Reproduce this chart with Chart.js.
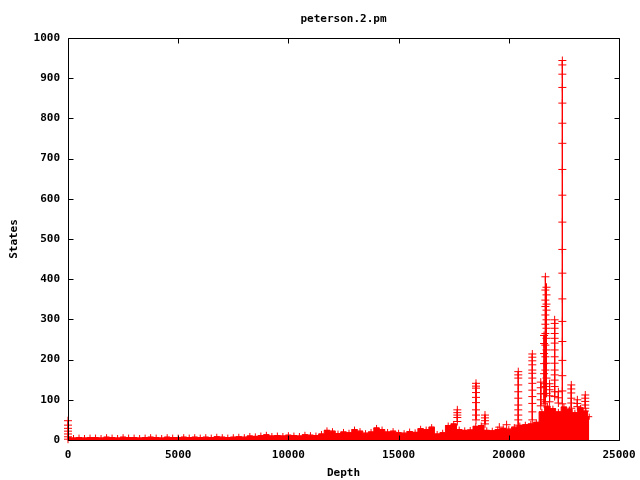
<!DOCTYPE html>
<html><head><meta charset="utf-8">
<script src="https://cdn.jsdelivr.net/npm/chart.js@4/dist/chart.umd.min.js"></script>
<style>html,body{margin:0;padding:0;background:#fff}#wrap{width:640px;height:480px}</style>
</head><body><div id="wrap"><canvas id="c" width="640" height="480"></canvas></div>
<script>
const chartTitle = 'peterson.2.pm';
const xLabel = 'Depth';
const yLabel = 'States';
const xTicks = [0, 5000, 10000, 15000, 20000, 25000];
const yTicks = [0, 100, 200, 300, 400, 500, 600, 700, 800, 900, 1000];

// dense band (upper envelope of states per depth)
const bandDepth = [0,250,500,750,1000,1250,1500,1750,2000,2250,2500,2750,3000,3250,3500,3750,4000,4250,4500,4750,
  5000,5250,5500,5750,6000,6250,6500,6750,7000,7250,7500,7750,8000,8250,8500,8750,9000,9250,9500,9750,
  10000,10250,10500,10750,11000,11250,11500,11750,12000,12250,12500,12750,13000,13250,13500,13750,14000,14250,14500,14750,
  15000,15250,15500,15750,16000,16250,16500,16750,17000,17250,17500,17750,18000,18250,18500,18750,19000,19250,19500,19750,
  20000,20250,20500,20750,21000,21250,21500,21750,22000,22250,22500,22750,23000,23250,23500,23650];
const bandStates = [6,5,6,5,6,6,5,7,6,5,
  7,6,6,5,6,7,6,5,7,6,
  6,7,6,7,6,7,6,8,7,6,
  7,8,7,10,9,11,13,10,11,10,
  12,11,10,13,12,11,15,24,22,16,
  20,18,26,22,17,20,30,26,20,22,
  18,17,21,19,28,26,32,15,18,36,
  40,26,24,25,34,36,24,23,26,29,
  27,32,36,38,40,44,70,84,78,70,
  82,76,68,80,72,58];

// spikes: many states recorded at the same depth
const spikeDepth = [0, 17665, 18512, 18920, 19570, 19900, 20430, 21067, 21450, 21600, 21660, 21710, 21850, 22080, 22250, 22430, 22835, 23110, 23470];
const spikeStates = [
  [2, 8, 15, 22, 29, 37, 48],
  [75, 68, 62, 56, 46],
  [141, 134, 129, 118, 106, 93, 75, 62, 50],
  [62, 55, 48, 40],
  [32],
  [38],
  [170, 162, 154, 137, 120, 104, 87, 75, 62, 50, 37],
  [214, 206, 197, 187, 174, 166, 154, 141, 124, 108, 91, 70, 50],
  [144, 130, 115, 100, 85],
  [260, 240, 215, 190, 165, 140, 115, 90],
  [406, 373, 348, 332, 311, 288, 265, 236, 207, 174, 133, 95],
  [380, 361, 338, 323, 299, 278, 253, 224, 191, 154, 116],
  [140, 125, 110, 95],
  [299, 290, 278, 265, 253, 241, 224, 207, 191, 174, 162, 149, 133, 120, 108],
  [120, 105, 92],
  [944, 933, 910, 877, 838, 788, 738, 673, 609, 542, 474, 415, 351, 295, 245, 198, 160, 122, 90],
  [137, 127, 117, 104, 92, 79],
  [100, 91, 83],
  [112, 104, 96, 87, 79]
];

const RED = '#ff0000';
const FONT = {family: '"DejaVu Sans Mono", monospace', weight: 'bold', size: 11};

const bandPoints = bandDepth.map((d, i) => ({x: d, y: bandStates[i]}));
const spikePoints = [];
spikeDepth.forEach((d, i) => {
  spikeStates[i].forEach(v => spikePoints.push({x: d, y: v}));
  spikePoints.push({x: d, y: null});
});

const framePlugin = {
  id: 'frame',
  afterDatasetsDraw(chart) {
    const {ctx, chartArea: a, scales: {x, y}} = chart;
    ctx.save();
    ctx.strokeStyle = '#000';
    ctx.lineWidth = 1;
    ctx.beginPath();
    const L = Math.round(a.left) + 0.5, R = Math.round(a.right) + 0.5;
    const T = Math.round(a.top) + 0.5, B = Math.round(a.bottom) + 0.5;
    ctx.rect(L, T, R - L, B - T);
    const tl = 5;
    xTicks.forEach(v => {
      const px = Math.round(x.getPixelForValue(v)) + 0.5;
      ctx.moveTo(px, B); ctx.lineTo(px, B - tl);
      ctx.moveTo(px, T); ctx.lineTo(px, T + tl);
    });
    yTicks.forEach(v => {
      const py = Math.round(y.getPixelForValue(v)) + 0.5;
      ctx.moveTo(L, py); ctx.lineTo(L + tl, py);
      ctx.moveTo(R, py); ctx.lineTo(R - tl, py);
    });
    ctx.stroke();
    ctx.fillStyle = '#000';
    ctx.font = 'bold 11px "DejaVu Sans Mono", monospace';
    ctx.textAlign = 'center';
    ctx.textBaseline = 'middle';
    ctx.fillText(chartTitle, (a.left + a.right) / 2, 19);
    ctx.restore();
  }
};

new Chart(document.getElementById('c'), {
  type: 'line',
  data: {
    datasets: [
      {
        label: 'spikes',
        data: spikePoints,
        borderColor: RED,
        backgroundColor: RED,
        borderWidth: 1,
        pointStyle: 'cross',
        pointRadius: 4,
        pointBorderWidth: 1,
        pointBorderColor: RED,
        spanGaps: false,
        fill: false,
        tension: 0,
        clip: false
      },
      {
        label: 'band',
        data: bandPoints,
        borderColor: RED,
        backgroundColor: RED,
        borderWidth: 1,
        pointStyle: 'cross',
        pointRadius: 3,
        pointBorderWidth: 1,
        pointBorderColor: RED,
        stepped: 'middle',
        fill: 'origin'
      }
    ]
  },
  options: {
    responsive: false,
    animation: false,
    devicePixelRatio: 1,
    layout: {padding: {top: 38, right: 21, bottom: 0, left: 0}},
    plugins: {legend: {display: false}, tooltip: {enabled: false}, title: {display: false}},
    scales: {
      x: {
        type: 'linear', min: 0, max: 25000,
        afterBuildTicks: s => { s.ticks = xTicks.map(v => ({value: v})); },
        afterFit: s => { s.height = 40; s.paddingLeft = 0; s.paddingRight = 0; },
        grid: {display: false, drawTicks: false},
        border: {display: false},
        ticks: {font: FONT, color: '#000', padding: 9, maxRotation: 0, callback: v => String(v)},
        title: {display: true, text: xLabel, font: FONT, color: '#000', padding: {top: 0, bottom: 0}}
      },
      y: {
        type: 'linear', min: 0, max: 1000,
        afterBuildTicks: s => { s.ticks = yTicks.map(v => ({value: v})); },
        afterFit: s => { s.width = 68; s.paddingTop = 0; s.paddingBottom = 0; },
        grid: {display: false, drawTicks: false},
        border: {display: false},
        ticks: {font: FONT, color: '#000', padding: 8, callback: v => String(v)},
        title: {display: true, text: yLabel, font: FONT, color: '#000', padding: {top: 8, bottom: 0}}
      }
    }
  },
  plugins: [framePlugin]
});
</script>
</body></html>
